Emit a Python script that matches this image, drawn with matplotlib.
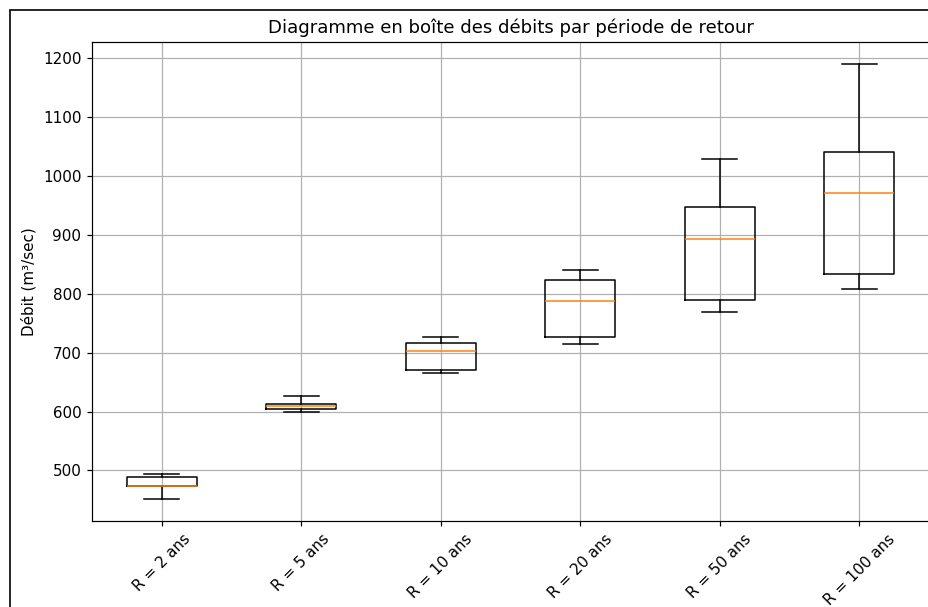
import matplotlib
matplotlib.use("Agg")
import matplotlib.pyplot as plt
from matplotlib.patches import Rectangle

# Périodes de retour et statistiques des boîtes
periodes = ["R = 2 ans", "R = 5 ans", "R = 10 ans", "R = 20 ans", "R = 50 ans", "R = 100 ans"]
moustache_basse = [451, 599, 666, 715, 770, 808]
q1 = [473.5, 605, 670, 726, 790, 833]
mediane = [474, 609, 703, 788, 894, 971]
q3 = [488, 613, 716, 823, 948, 1041]
moustache_haute = [494, 626, 726, 840, 1029, 1191]

stats = []
for i, nom in enumerate(periodes):
    stats.append({
        "label": nom,
        "whislo": moustache_basse[i],
        "q1": q1[i],
        "med": mediane[i],
        "q3": q3[i],
        "whishi": moustache_haute[i],
        "fliers": [],
    })

W, H = 928, 607
DPI = 109
fig = plt.figure(figsize=(W / DPI, H / DPI), dpi=DPI)

# Cadre de la figure (capture recadrée)
fig.patches.append(Rectangle((10 / W, -0.1), 1.2, 1 - 9.5 / H + 0.1,
                             transform=fig.transFigure, fill=False,
                             edgecolor="black", linewidth=1.1))

ax = fig.add_axes([92 / W, 1 - 521 / H, 837 / W, 479 / H])
ax.bxp(stats, positions=range(1, len(periodes) + 1))
ax.set_xlim(0.5, 6.5)
ax.set_ylim(414, 1228)
ax.spines["right"].set_visible(False)
ax.set_title("Diagramme en boîte des débits par période de retour")
ax.set_ylabel("Débit (m³/sec)")
ax.set_xticks(range(1, len(periodes) + 1))
ax.set_xticklabels(periodes, rotation=45)
ax.grid(True)

fig.savefig("out.png", dpi=DPI)
